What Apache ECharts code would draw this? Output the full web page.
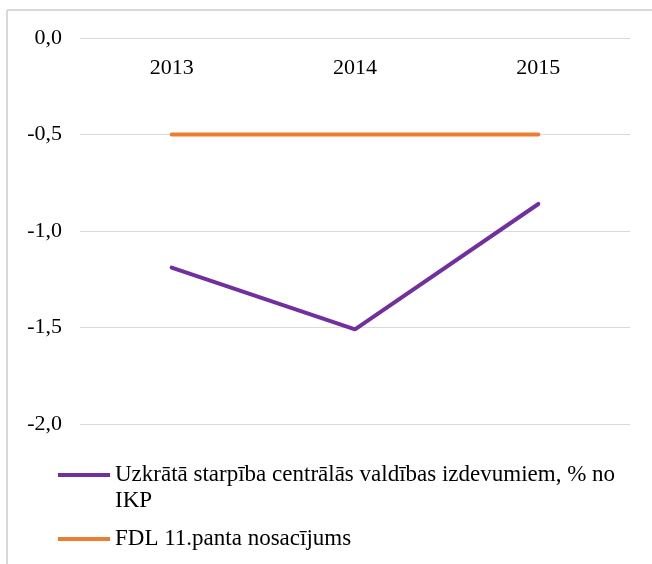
<!DOCTYPE html>
<html><head><meta charset="utf-8">
<script src="https://cdn.jsdelivr.net/npm/echarts@6/dist/echarts.min.js"></script>
<style>html,body{margin:0;padding:0;background:#fff}#c{width:652px;height:564px}</style>
</head><body><div id="c"></div>
<script>
var categories = ['2013', '2014', '2015'];
var seriesNames = ['Uzkrātā starpība centrālās valdības izdevumiem, % no IKP', 'FDL 11.panta nosacījums'];
var gapValues = [-1.19, -1.51, -0.86];
var ruleValues = [-0.5, -0.5, -0.5];
var colors = ['#7030A0', '#ED7D31'];

var chart = echarts.init(document.getElementById('c'), null, {renderer: 'canvas'});
var font = '"Liberation Serif", "Times New Roman", serif';
// legend icons: line at top of box for wrapped item, centered for single-line item
var iconTop = 'path://M0,0h52v4h-52z M0,30h0.01v0.01h-0.01z';
var iconMid = 'path://M0,13h52v4h-52z M0,0h0.01v0.01h-0.01z M0,30h0.01v0.01h-0.01z';
chart.setOption({
  animation: false,
  color: colors,
  graphic: [
    {type: 'line', shape: {x1: 7, y1: 10, x2: 652, y2: 10}, style: {stroke: '#d9d9d9', lineWidth: 2}},
    {type: 'line', shape: {x1: 7, y1: 10, x2: 7, y2: 564}, style: {stroke: '#d9d9d9', lineWidth: 2}}
  ],
  grid: {left: 80, right: 22, top: 38, height: 386},
  legend: {
    orient: 'vertical', left: 58, top: 462, padding: 0,
    itemWidth: 52, itemHeight: 30, itemGap: 10,
    textStyle: {fontFamily: font, fontSize: 23, color: '#000', width: 612, overflow: 'break', lineHeight: 26},
    data: [
      {name: seriesNames[0], icon: iconTop},
      {name: seriesNames[1], icon: iconMid}
    ]
  },
  xAxis: {
    type: 'category', data: categories, boundaryGap: true, position: 'top',
    axisLine: {show: false}, axisTick: {show: false},
    axisLabel: {inside: true, fontFamily: font, fontSize: 22, color: '#000', margin: 19}
  },
  yAxis: {
    type: 'value', min: -2, max: 0, interval: 0.5,
    axisLabel: {fontFamily: font, fontSize: 22, color: '#000', margin: 18,
      formatter: function (v) { return v.toFixed(1).replace('.', ','); }},
    splitLine: {lineStyle: {color: '#d9d9d9', width: 1}},
    axisLine: {show: false}, axisTick: {show: false}
  },
  series: [
    {name: seriesNames[0], type: 'line', data: gapValues, symbol: 'none', lineStyle: {width: 4, cap: 'round'}},
    {name: seriesNames[1], type: 'line', data: ruleValues, symbol: 'none', lineStyle: {width: 4, cap: 'round'}}
  ]
});
</script></body></html>
